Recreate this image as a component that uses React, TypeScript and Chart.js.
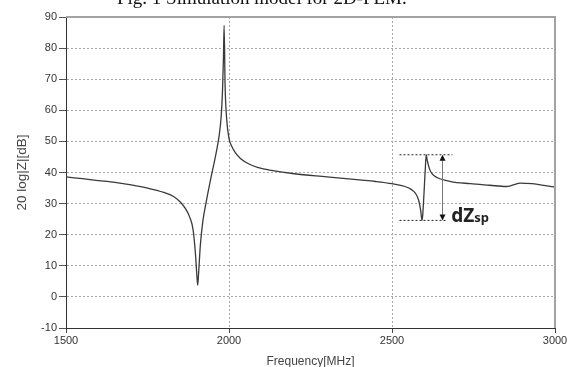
import React, { useEffect, useRef } from "react";
import { Chart, registerables } from "chart.js";

Chart.register(...registerables);

const FREQ_MHZ = [
  1500, 1550, 1600, 1650, 1700, 1750, 1800, 1830, 1850, 1865, 1880, 1890, 1897, 1902, 1904,
  1907, 1912, 1920, 1930, 1945, 1960, 1970, 1976, 1980, 1983, 1985, 1988, 1993, 2000, 2008,
  2020, 2035, 2060, 2090, 2130, 2200, 2300, 2400, 2450, 2500, 2540, 2560, 2572, 2582, 2588,
  2592, 2594, 2598, 2602, 2605, 2608, 2614, 2622, 2640, 2680, 2740, 2800, 2850, 2872, 2893,
  2930, 2970, 3000,
];
const IMPEDANCE_DB = [
  38.6, 38.0, 37.4, 36.8, 36.0, 35.0, 33.6, 32.3, 30.6, 28.6, 25.5, 21.5, 14.0, 6.0, 3.8,
  8.0, 16.5, 24.5, 30.5, 38.5, 46.0, 52.0, 58.0, 66.0, 77.0, 87.3, 68.0, 57.0, 51.0, 48.5,
  46.3, 44.5, 42.8, 41.6, 40.7, 39.6, 38.6, 37.6, 37.1, 36.4, 35.5, 34.5, 33.3, 31.0, 27.8,
  24.6, 26.0, 33.0, 41.0, 45.7, 44.0, 41.5, 39.7, 38.3, 37.1, 36.4, 35.9, 35.5, 36.0, 36.6,
  36.4, 35.8, 35.3,
];
const X_TICKS = [1500, 2000, 2500, 3000];
const Y_MIN = -10;
const Y_MAX = 90;
const Y_STEP = 10;

const TITLE_TEXT = "Fig. 1 Simulation model for 2D-FEM.";
const X_TITLE = "Frequency[MHz]";
const Y_TITLE = "20 log|Z|[dB]";

// dZsp annotation (data units)
const DZ_TOP_DB = 45.7;
const DZ_BOTTOM_DB = 24.6;
const DZ_LINE_START = 2523;
const DZ_TOP_LINE_END = 2685;
const DZ_BOTTOM_LINE_END = 2668;
const DZ_ARROW_FREQ = 2654;
const DZ_LABEL_FREQ = 2682;
const DZ_LABEL_MAIN = "dZ";
const DZ_LABEL_SUB = "sp";

const framePlugin = {
  id: "frameAndAnnotation",
  afterDraw(chart: any) {
    const { ctx, chartArea, scales } = chart;
    const xs = scales.x;
    const ys = scales.y;
    ctx.save();
    // top and right solid frame
    ctx.strokeStyle = "#a3a3a3";
    ctx.lineWidth = 2;
    ctx.setLineDash([]);
    const yTop = ys.getPixelForValue(Y_MAX);
    const xRight = xs.getPixelForValue(X_TICKS[X_TICKS.length - 1]);
    ctx.beginPath();
    ctx.moveTo(chartArea.left, yTop);
    ctx.lineTo(xRight + 1, yTop);
    ctx.moveTo(xRight, yTop);
    ctx.lineTo(xRight, chartArea.bottom);
    ctx.stroke();

    // annotation dotted lines
    const yT = ys.getPixelForValue(DZ_TOP_DB);
    const yB = ys.getPixelForValue(DZ_BOTTOM_DB);
    const x0 = xs.getPixelForValue(DZ_LINE_START);
    ctx.strokeStyle = "#222";
    ctx.lineWidth = 1;
    ctx.setLineDash([2, 2]);
    ctx.beginPath();
    ctx.moveTo(x0, yT);
    ctx.lineTo(xs.getPixelForValue(DZ_TOP_LINE_END), yT);
    ctx.moveTo(x0, yB);
    ctx.lineTo(xs.getPixelForValue(DZ_BOTTOM_LINE_END), yB);
    ctx.stroke();

    // arrow
    const xa = Math.round(xs.getPixelForValue(DZ_ARROW_FREQ)) + 0.5;
    ctx.setLineDash([]);
    ctx.strokeStyle = "#777";
    ctx.beginPath();
    ctx.moveTo(xa, yT + 5);
    ctx.lineTo(xa, yB - 5);
    ctx.stroke();
    ctx.fillStyle = "#111";
    ctx.beginPath();
    ctx.moveTo(xa, yT);
    ctx.lineTo(xa - 3, yT + 6);
    ctx.lineTo(xa + 3, yT + 6);
    ctx.closePath();
    ctx.fill();
    ctx.beginPath();
    ctx.moveTo(xa, yB);
    ctx.lineTo(xa - 3, yB - 6);
    ctx.lineTo(xa + 3, yB - 6);
    ctx.closePath();
    ctx.fill();

    // label
    const xl = xs.getPixelForValue(DZ_LABEL_FREQ);
    ctx.fillStyle = "#222";
    ctx.textBaseline = "alphabetic";
    ctx.textAlign = "left";
    ctx.font = "bold 19px 'Noto Sans', 'DejaVu Sans', sans-serif";
    ctx.fillText(DZ_LABEL_MAIN, xl, yB + 1.5);
    const w = ctx.measureText(DZ_LABEL_MAIN).width;
    ctx.font = "bold 13px 'Noto Sans', 'DejaVu Sans', sans-serif";
    ctx.fillText(DZ_LABEL_SUB, xl + w, yB + 1.5);
    ctx.restore();
  },
};

export default function App() {
  const ref = useRef<HTMLCanvasElement | null>(null);

  useEffect(() => {
    if (!ref.current) return;
    const data = FREQ_MHZ.map((f, i) => ({ x: f, y: IMPEDANCE_DB[i] }));
    const tickFont = { family: "'Liberation Sans', Arial, sans-serif", size: 11 };
    const chart = new Chart(ref.current, {
      type: "line",
      data: {
        datasets: [
          {
            data,
            borderColor: "#3a3a3a",
            borderWidth: 1.3,
            pointRadius: 0,
            cubicInterpolationMode: "monotone",
            fill: false,
          },
        ],
      },
      options: {
        animation: false,
        responsive: false,
        maintainAspectRatio: false,
        events: [],
        layout: { padding: { top: 17, right: 20, left: 0, bottom: 0 } },
        plugins: { legend: { display: false }, tooltip: { enabled: false }, title: { display: false } },
        scales: {
          x: {
            type: "linear",
            min: X_TICKS[0],
            max: X_TICKS[X_TICKS.length - 1],
            afterBuildTicks: (s: any) => {
              s.ticks = X_TICKS.map((v) => ({ value: v }));
            },
            afterFit: (s: any) => {
              s.height = 39;
            },
            ticks: {
              font: tickFont,
              color: "#333",
              padding: 1,
              maxRotation: 0,
              autoSkip: false,
              callback: (v: any) => String(v),
            },
            grid: {
              color: (c: any) =>
                c.tick && c.tick.value === X_TICKS[X_TICKS.length - 1] ? "rgba(0,0,0,0)" : "#a8a8a8",
              lineWidth: 1,
              tickLength: 5,
              tickColor: "#444",
              drawTicks: true,
            },
            border: { display: true, color: "#333", width: 1, dash: [2, 2] },
            title: {
              display: true,
              text: X_TITLE,
              color: "#444",
              font: { family: "'Liberation Sans', Arial, sans-serif", size: 12 },
              padding: { top: 0, bottom: -2 },
            },
          },
          y: {
            type: "linear",
            min: Y_MIN,
            max: Y_MAX,
            afterFit: (s: any) => {
              s.width = 66;
            },
            ticks: {
              stepSize: Y_STEP,
              font: tickFont,
              color: "#333",
              padding: 2,
            },
            grid: {
              color: (c: any) => (c.tick && c.tick.value === Y_MAX ? "rgba(0,0,0,0)" : "#a8a8a8"),
              lineWidth: 1,
              tickLength: 7,
              tickColor: "#555",
              drawTicks: true,
            },
            border: { display: true, color: "#333", width: 1, dash: [2, 2] },
            title: {
              display: true,
              text: Y_TITLE,
              color: "#444",
              font: { family: "'Liberation Sans', Arial, sans-serif", size: 13.5 },
              padding: { top: 14, bottom: 0 },
            },
          },
        },
      },
      plugins: [framePlugin],
    } as any);
    return () => chart.destroy();
  }, []);

  return (
    <div style={{ position: "absolute", left: 0, top: 0, width: 575, height: 367, overflow: "hidden", background: "#fff" }}>
      <canvas ref={ref} width={575} height={367} style={{ position: "absolute", left: 0, top: 0 }} />
      <div
        style={{
          position: "absolute",
          left: 117,
          top: -12,
          fontFamily: "'Liberation Serif', 'Times New Roman', serif",
          fontSize: 19,
          lineHeight: "19px",
          whiteSpace: "nowrap",
          color: "#111",
        }}
      >
        {TITLE_TEXT}
      </div>
    </div>
  );
}
